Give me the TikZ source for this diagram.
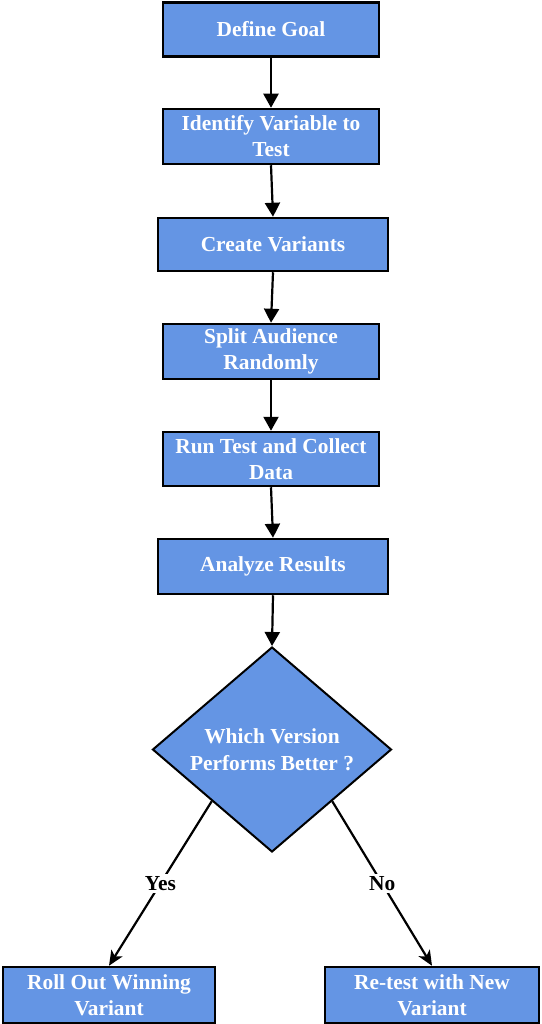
\documentclass[tikz,border=0pt]{standalone}
\usepackage{fontspec}
\setmainfont{Liberation Serif}
\usetikzlibrary{shapes.geometric,arrows.meta,calc}
\definecolor{boxblue}{RGB}{100,149,228}
\tikzset{
  procbox/.style={draw=black, line width=2.5pt, fill=boxblue, rectangle,
    minimum width=#1, minimum height=54pt, inner sep=0pt, align=center,
    text=white, font=\fontsize{21.4}{26}\selectfont\bfseries},
  procbox/.default=216pt,
  decision/.style={draw=black, line width=2pt, fill=boxblue, diamond, aspect=1.166,
    minimum width=239pt, minimum height=205pt, inner sep=0pt, align=center,
    text=white, font=\fontsize{21.4}{27}\selectfont\bfseries},
  flowarrow/.style={line width=2.2pt, -{Triangle[length=14pt,width=15pt]}},
  brancharrow/.style={line width=2.2pt, -{Stealth[length=15pt,width=13pt,inset=4pt]}},
  branchlabel/.style={fill=white, inner sep=2pt, text=black, font=\fontsize{21.4}{25}\selectfont\bfseries}
}
\begin{document}
\begin{tikzpicture}[x=1pt,y=-1pt]
\useasboundingbox (0,0) rectangle (541,1024);
\node[procbox] (goal) at (271,29.5) {Define Goal};
\node[procbox, minimum height=55pt] (ident) at (271,136.5) {Identify Variable to\\Test};
\node[procbox=230pt, minimum height=53pt] (create) at (273,244.5) {Create Variants};
\node[procbox, minimum height=55pt] (split) at (271,351.5) {Split Audience\\Randomly};
\node[procbox] (run) at (271,459) {Run Test and Collect\\Data};
\node[procbox=230pt, minimum height=55pt] (analyze) at (273,566.5) {Analyze Results};
\node[decision] (which) at (272,749.5) {Which Version\\Performs Better ?};
\node[procbox=212pt, minimum height=56pt] (roll) at (109,995) {Roll Out Winning\\Variant};
\node[procbox=214pt, minimum height=56pt] (retest) at (432,995) {Re-test with New\\Variant};

\draw[flowarrow] (goal.south) -- (ident.north);
\draw[flowarrow] (ident.south) -- (create.north);
\draw[flowarrow] (create.south) -- (split.north);
\draw[flowarrow] (split.south) -- (run.north);
\draw[flowarrow] (run.south) -- (analyze.north);
\draw[flowarrow] (analyze.south) -- (which.north);

\coordinate (yesstart) at ($(which.west)!0.5!(which.south)$);
\coordinate (nostart) at ($(which.east)!0.5!(which.south)$);
\draw[brancharrow] (yesstart) -- node[branchlabel] {Yes} (roll.north);
\draw[brancharrow] (nostart) -- node[branchlabel] {No} (retest.north);
\end{tikzpicture}
\end{document}
